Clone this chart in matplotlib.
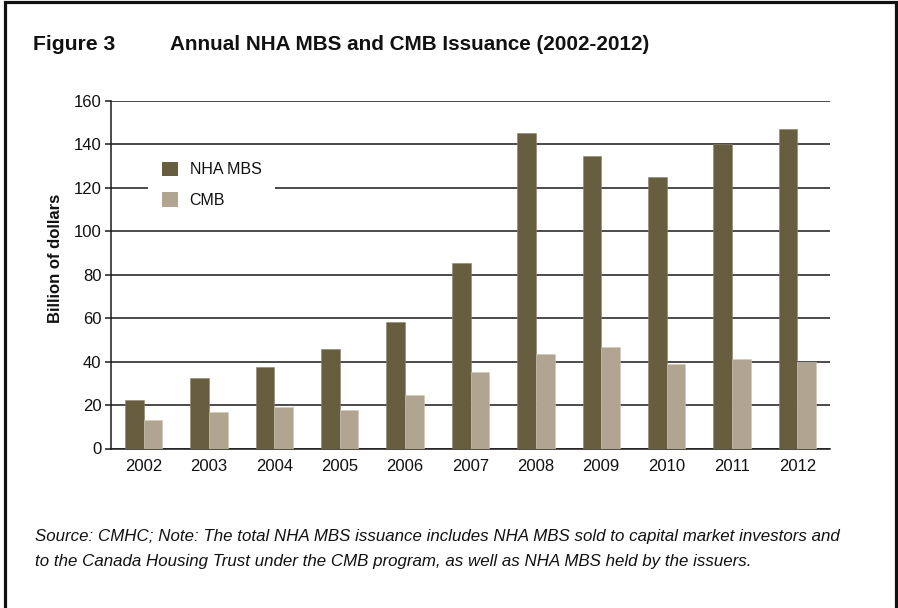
import matplotlib
matplotlib.use("Agg")
import matplotlib.pyplot as plt
from matplotlib.lines import Line2D
from matplotlib.patches import Patch
import numpy as np

plt.rcParams['font.family'] = ['Liberation Sans', 'DejaVu Sans']

years = ["2002", "2003", "2004", "2005", "2006", "2007",
         "2008", "2009", "2010", "2011", "2012"]
nha_mbs = [22.2, 32.4, 37.5, 45.8, 58.2, 85.6, 145.2, 134.5, 124.8, 140.1, 147.1]
cmb = [13.0, 17.0, 19.0, 17.8, 24.8, 35.4, 43.4, 46.8, 39.1, 41.2, 39.7]
series_names = ["NHA MBS", "CMB"]
y_ticks = [0, 20, 40, 60, 80, 100, 120, 140, 160]

NHA_COLOR = "#675e3f"
CMB_COLOR = "#b1a591"
INK = "#111111"

W, H = 898, 608
fig = plt.figure(figsize=(W / 100, H / 100), dpi=100)
fig.patch.set_facecolor("white")

ax = fig.add_axes([111 / W, (H - 448.5) / H, (830 - 111) / W, (448.5 - 101) / H])

x = np.arange(len(years))
bw = 0.286
ax.bar(x - bw / 2, nha_mbs, width=bw, color=NHA_COLOR, zorder=3,
       edgecolor="#8a826a", linewidth=0.4)
ax.bar(x + bw / 2, cmb, width=bw, color=CMB_COLOR, zorder=3,
       edgecolor="#cfc7b8", linewidth=0.4)

ax.set_xlim(-0.5, len(years) - 0.5)
ax.set_ylim(0, 160)
ax.set_yticks(y_ticks)
ax.set_yticklabels([str(t) for t in y_ticks])
ax.set_xticks(x)
ax.set_xticklabels(years)
ax.yaxis.grid(True, color="#1a1a1a", linewidth=1.1, zorder=0)
ax.set_axisbelow(True)

for side in ("top", "right"):
    ax.spines[side].set_visible(False)
for side in ("left", "bottom"):
    ax.spines[side].set_color("#1a1a1a")
    ax.spines[side].set_linewidth(1.1)

ax.tick_params(axis="y", length=4, width=1.1, color="#1a1a1a", pad=3,
               labelsize=12, labelcolor=INK)
ax.tick_params(axis="x", length=0, pad=7.5, labelsize=12, labelcolor=INK)

handles = [Patch(facecolor=NHA_COLOR, label=series_names[0]),
           Patch(facecolor=CMB_COLOR, label=series_names[1])]
leg = ax.legend(handles=handles, loc="upper left",
                bbox_to_anchor=(148 / W, (H - 148) / H),
                bbox_transform=fig.transFigure, borderaxespad=0,
                fontsize=11.5, frameon=True, framealpha=1, facecolor="white",
                edgecolor="none", fancybox=False, handlelength=1.05,
                handleheight=1.05, handletextpad=0.7, labelspacing=0.9,
                borderpad=0.85)
leg.set_zorder(5)
for t in leg.get_texts():
    t.set_color(INK)

fig.text(55 / W, (H - 258) / H, "Billion of dollars", rotation=90,
         ha="center", va="center", fontsize=12, fontweight="bold", color=INK)

fig.text(33 / W, (H - 50) / H, "Figure 3", ha="left", va="baseline",
         fontsize=15.2, fontweight="bold", color=INK)
fig.text(170 / W, (H - 50) / H, "Annual NHA MBS and CMB Issuance (2002-2012)",
         ha="left", va="baseline", fontsize=14.9, fontweight="bold", color=INK)

note_lines = [
    "Source: CMHC; Note: The total NHA MBS issuance includes NHA MBS sold to capital market investors and",
    "to the Canada Housing Trust under the CMB program, as well as NHA MBS held by the issuers.",
]
for baseline, line in zip((540.5, 566.0), note_lines):
    fig.text(35 / W, (H - baseline) / H, line, ha="left", va="baseline",
             fontsize=12.2, style="italic", color=INK)

# panel frame, open at the bottom
frame_pts = [(4.5, H + 5), (4.5, 2), (895.5, 2), (895.5, H + 5)]
fig.add_artist(Line2D([p[0] / W for p in frame_pts],
                      [(H - p[1]) / H for p in frame_pts],
                      transform=fig.transFigure, color=INK,
                      linewidth=2.3, solid_joinstyle="miter"))

fig.savefig("out.png", dpi=100, facecolor="white")
